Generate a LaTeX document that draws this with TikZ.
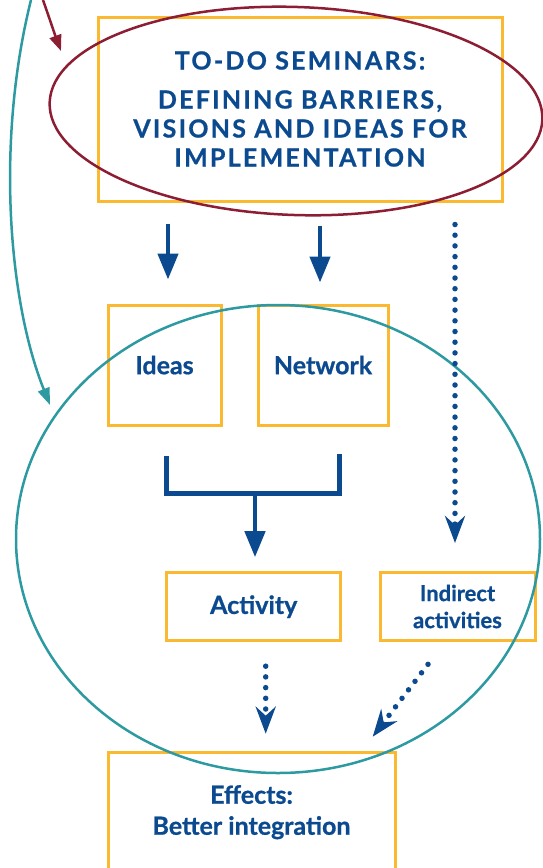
\documentclass[tikz,border=0pt]{standalone}
\usepackage{fontspec}
\setmainfont{Lato}[BoldFeatures={FakeBold=0.8}]
\newfontfamily\spacedfont{Lato}[LetterSpace=9, BoldFeatures={FakeBold=0.8}]
\usepackage{tikz}
\usetikzlibrary{positioning,calc,arrows.meta}

\definecolor{navy}{HTML}{0B4A8F}
\definecolor{gold}{HTML}{FBB831}
\definecolor{wine}{HTML}{8C1D32}
\definecolor{teal}{HTML}{2C9AA0}

\begin{document}
\begin{tikzpicture}[x=1pt, y=-1pt,
		box/.style={draw=gold, line width=3pt, inner sep=0pt, align=center, text=navy, font=\fontsize{25}{30}\selectfont\bfseries},
		flow/.style={draw=navy, line width=4.5pt, -{Triangle[length=26pt,width=20pt]}},
		dots/.style={draw=navy, line width=5.5pt, line cap=round, dash pattern=on 0pt off 10.7pt, -{Stealth[length=27pt,width=20pt,inset=9pt]}},
		bracket/.style={draw=navy, line width=5pt}]
		\useasboundingbox (0,0) rectangle (542,868);
		
		\node[box, minimum width=404pt, minimum height=184pt, font=\fontsize{25}{29}\spacedfont\bfseries] (top) at (300,109)
			{TO-DO SEMINARS:\\[10pt] DEFINING BARRIERS,\\ VISIONS AND IDEAS FOR\\ IMPLEMENTATION};
		\node[box, minimum width=113pt, minimum height=120pt] (ideas) at (164.5,365) {Ideas};
		\node[box, minimum width=130pt, minimum height=120pt] (network) at (323,365) {Network};
		\node[box, minimum width=174pt, minimum height=68pt] (activity) at (253.7,606.7) {Activity};
		\node[box, minimum width=155pt, minimum height=68pt, font=\fontsize{22}{27}\selectfont\bfseries] (indirect) at (457.5,606.5) {Indirect\\ activities};
		\node[box, minimum width=287pt, minimum height=120pt, anchor=north, font=\fontsize{25}{31}\selectfont\bfseries] (effects) at (251.5,750.7) {Effects:\\ Better integration};
		
		% the two rings
		\draw[wine, line width=2.5pt, rotate around={-2:(296,111)}] (296,111) ellipse [x radius=246.5pt, y radius=104pt];
		\draw[teal, line width=2.5pt] (278,539) ellipse [x radius=262pt, y radius=234pt];
		
		\coordinate (wstart) at (43,0);
		\coordinate (wend) at (61,51);
		\coordinate (tstart) at (31,0);
		\coordinate (tend) at (50,405);
		\draw[wine, line width=2.5pt, -{Triangle[length=16pt,width=12pt]}] (wstart) .. controls (50,20) and (55,35) .. (wend);
		\draw[teal, line width=2.5pt, -{Triangle[length=17pt,width=12pt]}] (tstart) .. controls (-4,140) and (8,300) .. (tend);
		
		% arrows out of the seminars
		\draw[flow, shorten <=21pt, shorten >=24pt] ([xshift=3.5pt]top.south -| ideas.north) -- ([xshift=3.5pt]ideas.north);
		\draw[flow, shorten <=23pt, shorten >=21pt] ([xshift=-3pt]top.south -| network.north) -- ([xshift=-3pt]network.north);
		\draw[dots, shorten <=22pt, shorten >=28pt] ([xshift=-2.5pt]top.south -| indirect.north) -- ([xshift=-2.5pt]indirect.north);
		
		% ideas + network -> activity
		\coordinate (join) at (255,493);
		\draw[bracket] (166.7,456) |- (339,493) -- (339,454);
		\draw[flow, shorten >=14pt] (join) -- (join |- activity.north);
		
		\draw[dots, shorten <=24pt, shorten >=17pt] ([xshift=12pt]activity.south) -- ([xshift=12pt]activity.south |- effects.north);
		\draw[dots] ([shift={(-29.5pt,-22.3pt)}]indirect.south) -- ([shift={(121.2pt,14pt)}]effects.north);
	\end{tikzpicture}
\end{document}
